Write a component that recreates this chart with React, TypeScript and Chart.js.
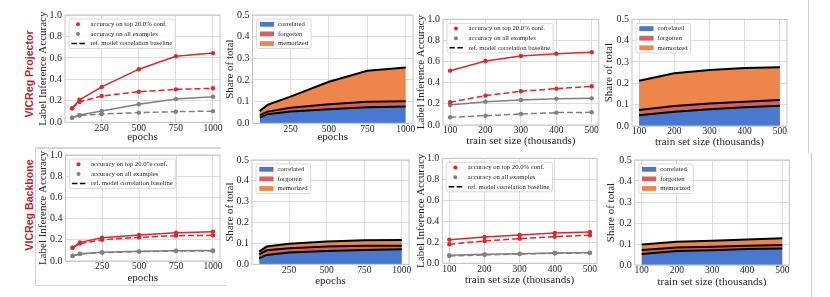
import React, { useEffect, useRef } from "react";
import { Chart, registerables } from "chart.js";
Chart.register(...registerables);

// ---------- data ----------
const epochs = [50, 100, 250, 500, 750, 1000];
const trainSizes = [100, 200, 300, 400, 500];
const epochTicks = [250, 500, 750, 1000];
const sizeTicks = [100, 200, 300, 400, 500];
const accTicks = [0, 0.2, 0.4, 0.6, 0.8, 1.0];
const shareTicks = [0, 0.1, 0.2, 0.3, 0.4, 0.5];

const accLegend = ["accuracy on top 20.0% conf.", "accuracy on all examples", "ref. model correlation baseline"];
const shareLegend = ["correlated", "forgotten", "memorized"];
const rowLabels = ["VICReg Projector", "VICReg Backbone"];
const epochTitle = "epochs";
const sizeTitle = "train set size (thousands)";
const accTitle = "Label Inference Accuracy";
const shareTitle = "Share of total";

// VICReg Projector, vs epochs
const projEpochTop = [0.13, 0.21, 0.33, 0.495, 0.615, 0.645];
const projEpochTopBase = [0.13, 0.19, 0.245, 0.285, 0.307, 0.317];
const projEpochAll = [0.043, 0.068, 0.106, 0.168, 0.217, 0.239];
const projEpochAllBase = [0.043, 0.062, 0.078, 0.09, 0.099, 0.104];
const projEpochCorrelated = [0.026, 0.042, 0.054, 0.065, 0.074, 0.077];
const projEpochForgotten = [0.012, 0.012, 0.018, 0.023, 0.026, 0.025];
const projEpochMemorized = [0.019, 0.031, 0.051, 0.104, 0.143, 0.156];

// VICReg Projector, vs train set size
const projSizeTop = [0.514, 0.606, 0.653, 0.675, 0.688];
const projSizeTopBase = [0.215, 0.278, 0.319, 0.344, 0.366];
const projSizeAll = [0.189, 0.221, 0.237, 0.249, 0.252];
const projSizeAllBase = [0.073, 0.088, 0.104, 0.117, 0.12];
const projSizeCorrelated = [0.05, 0.067, 0.078, 0.0875, 0.095];
const projSizeForgotten = [0.025, 0.027, 0.028, 0.0265, 0.027];
const projSizeMemorized = [0.1375, 0.153, 0.1565, 0.158, 0.153];

// VICReg Backbone, vs epochs
const backEpochTop = [0.126, 0.176, 0.22, 0.245, 0.267, 0.277];
const backEpochTopBase = [0.126, 0.164, 0.201, 0.223, 0.239, 0.242];
const backEpochAll = [0.05, 0.069, 0.082, 0.091, 0.097, 0.1];
const backEpochAllBase = [0.047, 0.066, 0.079, 0.088, 0.094, 0.094];
const backEpochCorrelated = [0.029, 0.045, 0.056, 0.064, 0.069, 0.072];
const backEpochForgotten = [0.019, 0.022, 0.021, 0.021, 0.02, 0.017];
const backEpochMemorized = [0.013, 0.018, 0.022, 0.024, 0.026, 0.028];

// VICReg Backbone, vs train set size
const backSizeTop = [0.225, 0.251, 0.27, 0.289, 0.298];
const backSizeTopBase = [0.181, 0.213, 0.235, 0.254, 0.267];
const backSizeAll = [0.076, 0.086, 0.092, 0.098, 0.102];
const backSizeAllBase = [0.07, 0.079, 0.089, 0.095, 0.098];
const backSizeCorrelated = [0.052, 0.067, 0.07, 0.076, 0.079];
const backSizeForgotten = [0.019, 0.016, 0.017, 0.016, 0.016];
const backSizeMemorized = [0.027, 0.028, 0.029, 0.03, 0.032];

// ---------- styles ----------
const RED = "#e0262a";
const GRAY = "#808080";
const FILLS = ["#4878d0", "#d65f5f", "#ee854a"];
const SERIF = '"Liberation Serif", "DejaVu Serif", serif';
const TEXT = "#262626";
const GRID = "#dcdcdc";
const SPINE = "#c4c4c4";

type Box = { L: number; T: number; R: number; B: number; yTitleX: number; xTitleY: number };
type PanelCfg = {
  kind: "acc" | "share";
  x: number[];
  series: number[][];
  xTicks: number[];
  xMin: number;
  xMax: number;
  xTitle: string;
  box: Box;
};

const panels: PanelCfg[] = [
  { kind: "acc", x: epochs, series: [projEpochTop, projEpochTopBase, projEpochAll, projEpochAllBase], xTicks: epochTicks, xMin: 2.5, xMax: 1047.5, xTitle: epochTitle,
    box: { L: 65, T: 15, R: 220, B: 122.3, yTitleX: 44, xTitleY: 138 } },
  { kind: "share", x: epochs, series: [projEpochCorrelated, projEpochForgotten, projEpochMemorized], xTicks: epochTicks, xMin: 2.5, xMax: 1047.5, xTitle: epochTitle,
    box: { L: 252.5, T: 15, R: 413, B: 123.3, yTitleX: 231, xTitleY: 138.3 } },
  { kind: "acc", x: trainSizes, series: [projSizeTop, projSizeTopBase, projSizeAll, projSizeAllBase], xTicks: sizeTicks, xMin: 80, xMax: 520, xTitle: sizeTitle,
    box: { L: 443, T: 19.3, R: 598.8, B: 125, yTitleX: 421.5, xTitleY: 142.5 } },
  { kind: "share", x: trainSizes, series: [projSizeCorrelated, projSizeForgotten, projSizeMemorized], xTicks: sizeTicks, xMin: 80, xMax: 520, xTitle: sizeTitle,
    box: { L: 632, T: 19.3, R: 787, B: 126, yTitleX: 610, xTitleY: 143 } },
  { kind: "acc", x: epochs, series: [backEpochTop, backEpochTopBase, backEpochAll, backEpochAllBase], xTicks: epochTicks, xMin: 2.5, xMax: 1047.5, xTitle: epochTitle,
    box: { L: 65.5, T: 155, R: 220, B: 261, yTitleX: 43.3, xTitleY: 279 } },
  { kind: "share", x: epochs, series: [backEpochCorrelated, backEpochForgotten, backEpochMemorized], xTicks: epochTicks, xMin: 2.5, xMax: 1047.5, xTitle: epochTitle,
    box: { L: 252, T: 160, R: 409, B: 264.3, yTitleX: 231, xTitleY: 282.5 } },
  { kind: "acc", x: trainSizes, series: [backSizeTop, backSizeTopBase, backSizeAll, backSizeAllBase], xTicks: sizeTicks, xMin: 80, xMax: 520, xTitle: sizeTitle,
    box: { L: 442.3, T: 158.3, R: 597, B: 263.3, yTitleX: 422, xTitleY: 281.7 } },
  { kind: "share", x: trainSizes, series: [backSizeCorrelated, backSizeForgotten, backSizeMemorized], xTicks: sizeTicks, xMin: 80, xMax: 520, xTitle: sizeTitle,
    box: { L: 634.7, T: 160, R: 789.3, B: 265, yTitleX: 612, xTitleY: 283 } },
];

const accStyles = [
  { color: RED, dash: [] as number[] },
  { color: RED, dash: [6, 3] },
  { color: GRAY, dash: [] as number[] },
  { color: GRAY, dash: [6, 3] },
];

function Panel({ cfg }: { cfg: PanelCfg }) {
  const ref = useRef<HTMLCanvasElement>(null);
  const { L, T, R, B, yTitleX, xTitleY } = cfg.box;
  const left = Math.round(yTitleX - 6.6);
  const top = Math.round(T - 8);
  const right = Math.round(R + 12);
  const w = right - left;
  const Wy = L - left;
  const padTop = T - top;
  const padRight = right - R;
  const h = Math.round(xTitleY - 1 + 6.6 - top);
  const Hx = top + h - B;

  useEffect(() => {
    const isAcc = cfg.kind === "acc";
    const datasets: any[] = cfg.series.map((s, i) => {
      const data = cfg.x.map((xv, j) => ({ x: xv, y: s[j] }));
      if (isAcc) {
        const st = accStyles[i];
        return {
          data,
          borderColor: st.color,
          backgroundColor: st.color,
          pointBackgroundColor: st.color,
          pointBorderColor: st.color,
          pointRadius: 2.2,
          pointBorderWidth: 0,
          borderWidth: 1.5,
          borderDash: st.dash,
          fill: false,
          tension: 0,
        };
      }
      return {
        data,
        borderColor: "#000000",
        borderWidth: 2,
        backgroundColor: FILLS[i],
        fill: i === 0 ? "origin" : "-1",
        pointRadius: 0,
        tension: 0,
      };
    });

    const framePlugin = {
      id: "frame",
      afterDatasetsDraw(chart: any) {
        const { ctx, chartArea: a } = chart;
        ctx.save();
        ctx.strokeStyle = SPINE;
        ctx.lineWidth = 1;
        ctx.strokeRect(a.left, a.top, a.right - a.left, a.bottom - a.top);
        ctx.restore();
      },
    };

    const legendPlugin = {
      id: "boxLegend",
      afterDraw(chart: any) {
        const { ctx, chartArea: a } = chart;
        const fs = 6.7;
        const labels = isAcc ? accLegend : shareLegend;
        ctx.save();
        ctx.font = `${fs}px ${SERIF}`;
        const tw = Math.max(...labels.map((t) => ctx.measureText(t).width));
        const bx = a.left + 4;
        const by = a.top + 4;
        const bw = 21.5 + tw + 3;
        const bh = 29.5;
        ctx.fillStyle = "rgba(255,255,255,0.85)";
        ctx.strokeStyle = "#d0d0d0";
        ctx.lineWidth = 0.8;
        ctx.beginPath();
        ctx.roundRect(bx, by, bw, bh, 2);
        ctx.fill();
        ctx.stroke();
        labels.forEach((t, i) => {
          const cy = by + 5.3 + i * 9.6;
          if (isAcc) {
            if (i < 2) {
              ctx.fillStyle = i === 0 ? RED : GRAY;
              ctx.beginPath();
              ctx.arc(bx + 9, cy, 2, 0, Math.PI * 2);
              ctx.fill();
            } else {
              ctx.strokeStyle = "#000";
              ctx.lineWidth = 1.5;
              ctx.setLineDash([5.5, 2.5]);
              ctx.beginPath();
              ctx.moveTo(bx + 2.4, cy);
              ctx.lineTo(bx + 16, cy);
              ctx.stroke();
              ctx.setLineDash([]);
            }
          } else {
            ctx.fillStyle = FILLS[i];
            ctx.fillRect(bx + 3.3, cy - 2.4, 14.2, 4.8);
          }
          ctx.fillStyle = TEXT;
          ctx.textBaseline = "middle";
          ctx.textAlign = "left";
          ctx.fillText(t, bx + 21.5, cy);
        });
        ctx.restore();
      },
    };

    const yTicks = isAcc ? accTicks : shareTicks;
    const chart = new Chart(ref.current as HTMLCanvasElement, {
      type: "line",
      data: { datasets },
      plugins: [framePlugin, legendPlugin],
      options: {
        animation: false,
        responsive: false,
        maintainAspectRatio: false,
        devicePixelRatio: 1,
        layout: { autoPadding: false, padding: { left: 0, top: padTop, right: padRight, bottom: 0 } },
        plugins: { legend: { display: false }, tooltip: { enabled: false } },
        scales: {
          x: {
            type: "linear",
            min: cfg.xMin,
            max: cfg.xMax,
            afterBuildTicks: (s: any) => {
              s.ticks = cfg.xTicks.map((v) => ({ value: v }));
            },
            afterFit: (s: any) => {
              s.height = Hx;
              s.paddingLeft = 0;
              s.paddingRight = 0;
              s.paddingTop = 0;
              s.paddingBottom = 0;
            },
            ticks: {
              padding: 0,
              maxRotation: 0,
              autoSkip: false,
              color: TEXT,
              font: { family: SERIF, size: 9.5 },
              callback: (v: any) => String(v),
            },
            grid: { color: GRID, lineWidth: 1, drawTicks: false },
            border: { display: false },
            title: { display: true, text: cfg.xTitle, color: TEXT, padding: 0, font: { family: SERIF, size: 11 } },
          },
          y: {
            type: "linear",
            min: 0,
            max: isAcc ? 1 : 0.5,
            stacked: !isAcc,
            afterBuildTicks: (s: any) => {
              s.ticks = yTicks.map((v) => ({ value: v }));
            },
            afterFit: (s: any) => {
              s.width = Wy;
              s.paddingLeft = 0;
              s.paddingRight = 0;
              s.paddingTop = 0;
              s.paddingBottom = 0;
            },
            ticks: {
              padding: 3,
              color: TEXT,
              font: { family: SERIF, size: 10 },
              callback: (v: any) => Number(v).toFixed(1),
            },
            grid: { color: GRID, lineWidth: 1, drawTicks: false },
            border: { display: false },
            title: { display: true, text: isAcc ? accTitle : shareTitle, color: TEXT, padding: 0, font: { family: SERIF, size: 11 } },
          },
        },
      } as any,
    });
    return () => chart.destroy();
  }, []);

  return (
    <canvas
      ref={ref}
      width={w}
      height={h}
      style={{ position: "absolute", left, top, width: w, height: h }}
    />
  );
}

function Line({ x, y, w, h, c }: { x: number; y: number; w: number; h: number; c: string }) {
  return <div style={{ position: "absolute", left: x, top: y, width: w, height: h, background: c }} />;
}

export default function App() {
  const rowCenters = [73.5, 205];
  return (
    <div style={{ position: "absolute", left: 0, top: 0, width: 830, height: 297, background: "#fff", overflow: "hidden" }}>
      <Line x={35} y={146.5} w={186} h={2} c="#d8d8d8" />
      <Line x={34.5} y={147} w={1} h={139} c="#d4d4d4" />
      <Line x={35} y={285} w={192} h={1} c="#d8d8d8" />
      <Line x={808} y={0} w={1} h={153} c="#d0d0d0" />
      <Line x={810.5} y={153} w={1} h={144} c="#d0d0d0" />
      {panels.map((p, i) => (
        <Panel key={i} cfg={p} />
      ))}
      {rowLabels.map((t, i) => (
        <div
          key={t}
          style={{
            position: "absolute",
            left: 29,
            top: rowCenters[i],
            transform: "translate(-50%, -50%) rotate(-90deg)",
            whiteSpace: "nowrap",
            fontFamily: '"Liberation Sans", Arial, sans-serif',
            fontWeight: "bold",
            fontSize: 10.6,
            color: "#c41e1e",
            lineHeight: 1,
          }}
        >
          {t}
        </div>
      ))}
    </div>
  );
}
